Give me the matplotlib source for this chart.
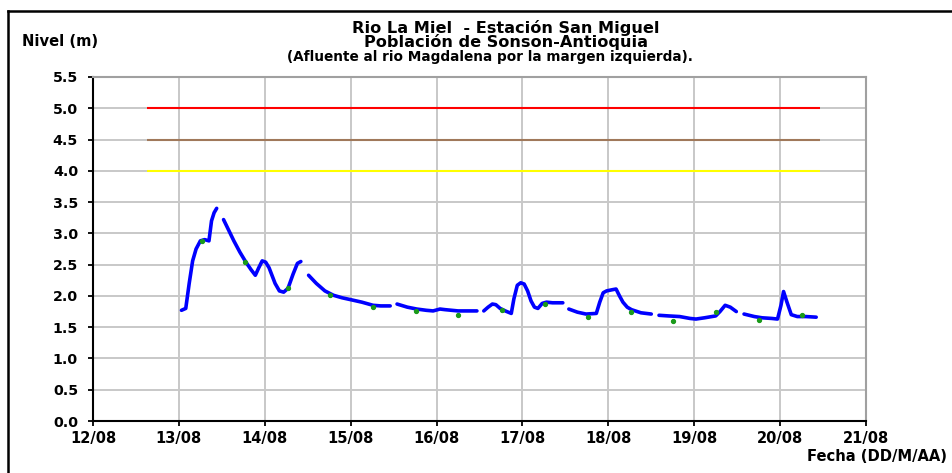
import numpy as np
import matplotlib.pyplot as plt
from matplotlib.lines import Line2D

plt.rcParams['font.family'] = ['DejaVu Sans']

# day of month (August), nan = break in the record
dias = [13.03, 13.08, 13.12, 13.16, 13.20, 13.25, 13.30, 13.35, 13.38, 13.41, 13.44, np.nan,
        13.52, 13.58, 13.64, 13.71, 13.78, 13.84, 13.89, 13.93, 13.97, 14.01, 14.05, 14.12,
        14.17, 14.22, 14.27, 14.33, 14.38, 14.42, np.nan,
        14.51, 14.60, 14.70, 14.80, 14.90, 15.00, 15.13, 15.26, 15.35, 15.46, np.nan,
        15.54, 15.66, 15.77, 15.88, 15.96, 16.04, 16.10, 16.25, 16.47, np.nan,
        16.55, 16.60, 16.65, 16.69, 16.74, 16.80, 16.87, 16.90, 16.94, 16.98, 17.02, 17.06,
        17.10, 17.14, 17.18, 17.23, 17.28, 17.35, 17.47, np.nan,
        17.54, 17.64, 17.74, 17.86, 17.90, 17.94, 17.98, 18.05, 18.09, 18.13, 18.17, 18.22,
        18.27, 18.38, 18.50, np.nan,
        18.59, 18.70, 18.83, 18.95, 19.02, 19.12, 19.25, 19.30, 19.36, 19.42, 19.49, np.nan,
        19.58, 19.70, 19.79, 19.90, 19.97, 20.01, 20.04, 20.08, 20.13, 20.20, 20.30, 20.42]
nivel = [1.77, 1.80, 2.20, 2.56, 2.75, 2.88, 2.90, 2.88, 3.20, 3.33, 3.40, np.nan,
         3.22, 3.05, 2.88, 2.70, 2.54, 2.42, 2.33, 2.45, 2.56, 2.54, 2.45, 2.20,
         2.08, 2.06, 2.12, 2.35, 2.52, 2.55, np.nan,
         2.33, 2.20, 2.08, 2.01, 1.97, 1.94, 1.90, 1.85, 1.84, 1.84, np.nan,
         1.87, 1.82, 1.79, 1.77, 1.76, 1.79, 1.78, 1.76, 1.76, np.nan,
         1.76, 1.82, 1.87, 1.86, 1.80, 1.76, 1.72, 1.95, 2.17, 2.21, 2.19, 2.08,
         1.92, 1.82, 1.80, 1.88, 1.90, 1.89, 1.89, np.nan,
         1.79, 1.74, 1.71, 1.72, 1.90, 2.05, 2.08, 2.10, 2.11, 2.00, 1.90, 1.82,
         1.78, 1.73, 1.71, np.nan,
         1.69, 1.68, 1.67, 1.64, 1.63, 1.65, 1.68, 1.75, 1.85, 1.82, 1.75, np.nan,
         1.71, 1.67, 1.65, 1.64, 1.63, 1.85, 2.07, 1.90, 1.70, 1.67, 1.67, 1.66]

# manual readings (green dots)
dias_lect = [13.27, 13.77, 14.27, 14.76, 15.26, 15.76, 16.25, 16.76, 17.26,
             17.76, 18.26, 18.75, 19.25, 19.75, 20.25]
nivel_lect = [2.87, 2.54, 2.12, 2.02, 1.83, 1.76, 1.70, 1.78, 1.87,
              1.67, 1.74, 1.60, 1.74, 1.62, 1.70]

# alert levels
alertas = [5.0, 4.5, 4.0]
colores_alerta = ['#ff0000', '#a0785a', '#ffff00']

xticks = list(range(12, 22))
xlabels = ['12/08', '13/08', '14/08', '15/08', '16/08', '17/08', '18/08', '19/08', '20/08', '21/08']

W, H = 952, 473
fig = plt.figure(figsize=(W / 100, H / 100), dpi=100)
ax = fig.add_axes([93 / W, 1 - 421 / H, (866 - 93) / W, (421 - 77) / H])

for nv, c in zip(alertas, colores_alerta):
    ax.hlines(nv, 12.63, 20.47, color=c, lw=1.5, zorder=3)

ax.plot(dias, nivel, color='#0000ff', lw=2.6, solid_capstyle='round', solid_joinstyle='round', zorder=4)
ax.plot(dias_lect, nivel_lect, 'o', color='#1a9a1a', ms=2.8, zorder=5)

ax.set_xlim(12, 21)
ax.set_ylim(0, 5.5)
ax.set_xticks(xticks)
ax.set_xticklabels(xlabels, fontweight='bold', fontsize=10.5)
ax.set_yticks(np.arange(0, 5.51, 0.5))
ax.set_yticklabels(['%.1f' % v for v in np.arange(0, 5.51, 0.5)], fontweight='bold', fontsize=10.2)
ax.grid(True, color='#c8c8c8', lw=1.4)
ax.set_axisbelow(True)
ax.tick_params(direction='out', length=3.8, width=1.3)
ax.tick_params(axis='y', pad=7)
ax.tick_params(axis='x', pad=3.5)
ax.spines['top'].set_color('#a0a0a0')
ax.spines['right'].set_color('#a0a0a0')
for s in ['top', 'right', 'left', 'bottom']:
    ax.spines[s].set_linewidth(1.5)

fig.text(506 / W, 1 - 27.5 / H, 'Rio La Miel  - Estación San Miguel', ha='center', va='center',
         fontsize=11.6, fontweight='bold')
fig.text(506 / W, 1 - 42.5 / H, 'Población de Sonson-Antioquia', ha='center', va='center',
         fontsize=11.6, fontweight='bold')
fig.text(490 / W, 1 - 57.5 / H, '(Afluente al rio Magdalena por la margen izquierda).', ha='center',
         va='center', fontsize=9.8, fontweight='bold')
fig.text(22 / W, 1 - 42 / H, 'Nivel (m)', ha='left', va='center', fontsize=10.6, fontweight='bold')
fig.text(947 / W, 1 - 456 / H, 'Fecha (DD/M/AA)', ha='right', va='center', fontsize=10.6,
         fontweight='bold')

# outer frame
fig.add_artist(Line2D([8 / W, 1.0], [1 - 11.5 / H, 1 - 11.5 / H], color='black', lw=1.8))
fig.add_artist(Line2D([8 / W, 8 / W], [0.0, 1 - 11.5 / H], color='black', lw=1.8))

fig.savefig('out.png', dpi=100)
